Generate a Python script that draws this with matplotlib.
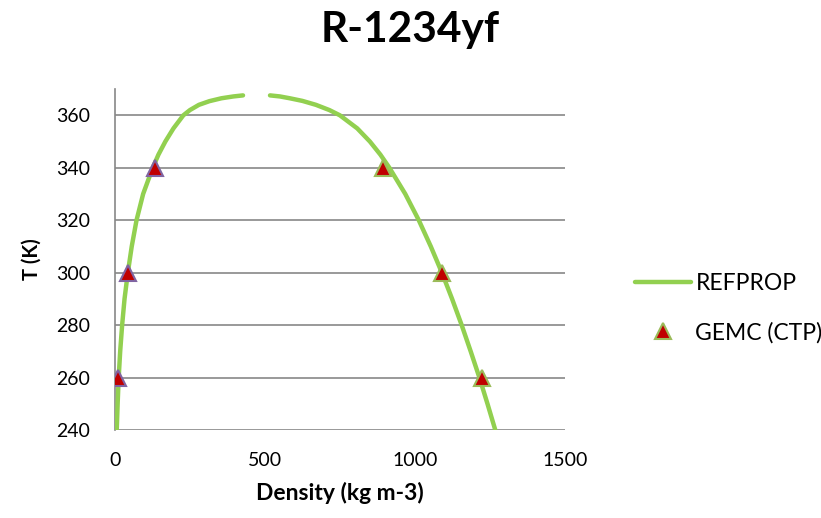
import matplotlib
matplotlib.use("Agg")
import matplotlib.pyplot as plt
from matplotlib.lines import Line2D

plt.rcParams['font.family'] = ['Lato', 'DejaVu Sans']

# REFPROP saturation curve
T_vap = [240, 250, 260, 270, 280, 290, 300, 310, 320, 330, 340, 345, 350, 355, 360, 362, 364, 365.4, 366.5, 367.2, 367.6]
rho_vap = [6, 9, 12.5, 17.5, 24, 32, 43, 56, 72, 94, 126, 145, 168, 195, 228, 250, 280, 315, 355, 395, 427]
T_liq = [367.6, 367.2, 366.5, 365.5, 364, 362, 360, 355, 350, 345, 340, 330, 320, 310, 300, 290, 280, 270, 260, 250, 240]
rho_liq = [517, 550, 583, 625, 670, 715, 750, 808, 850, 885, 915, 968, 1013, 1053, 1090, 1124, 1156, 1186, 1215, 1242, 1268]

# GEMC (CTP) points
gemc_T_vap = [260, 300, 340]
gemc_rho_vap = [10, 43, 133]
gemc_T_liq = [260, 300, 340]
gemc_rho_liq = [1223, 1090, 893]

x_ticks = [0, 500, 1000, 1500]
y_ticks = [240, 260, 280, 300, 320, 340, 360]

green = '#92D050'
red = '#C00000'
purple = '#8064A2'
olive = '#9BBB59'
grid_c = '#878787'

fig = plt.figure(figsize=(8.21, 5.18), dpi=100)
ax = fig.add_axes([0.140, 0.170, 0.548, 0.658])

ax.plot(rho_vap, T_vap, color=green, lw=3.2, solid_capstyle='round', zorder=3)
ax.plot(rho_liq, T_liq, color=green, lw=3.2, solid_capstyle='round', zorder=3)
ax.plot(gemc_rho_vap, gemc_T_vap, ls='none', marker='^', ms=12, mfc=red, mec=purple, mew=1.5, zorder=4)
ax.plot(gemc_rho_liq, gemc_T_liq, ls='none', marker='^', ms=12, mfc=red, mec=olive, mew=1.5, zorder=4)

ax.set_xlim(0, 1500)
ax.set_ylim(240, 370)
ax.set_xticks(x_ticks)
ax.set_yticks(y_ticks)
ax.set_xticklabels([str(v) for v in x_ticks])
ax.set_yticklabels([str(v) for v in y_ticks])
ax.tick_params(axis='both', length=0, labelsize=14, colors='black')
ax.tick_params(axis='y', pad=18)
ax.tick_params(axis='x', pad=16)
ax.grid(axis='y', color=grid_c, lw=1.2)
ax.set_axisbelow(True)
for s in ['top', 'right', 'bottom']:
    ax.spines[s].set_visible(False)
ax.spines['left'].set_color(grid_c)
ax.spines['left'].set_linewidth(1.2)

ax.set_xlabel('Density (kg m-3)', fontsize=16.5, fontweight='bold', labelpad=9)
ax.set_ylabel('T (K)', fontsize=14.5, fontweight='bold', labelpad=10)
fig.suptitle('R-1234yf', fontsize=30.5, fontweight='bold', y=0.978)

handles = [Line2D([], [], color=green, lw=3.2, solid_capstyle='round'),
           Line2D([], [], ls='none', marker='^', ms=12, mfc=red, mec=olive, mew=1.5)]
fig.legend(handles, ['REFPROP', 'GEMC (CTP)'], loc='center left',
           bbox_to_anchor=(0.748, 0.405), frameon=False, fontsize=16.5,
           handlelength=2.45, handletextpad=0.2, labelspacing=1.2)

fig.savefig('out.png', dpi=100)
